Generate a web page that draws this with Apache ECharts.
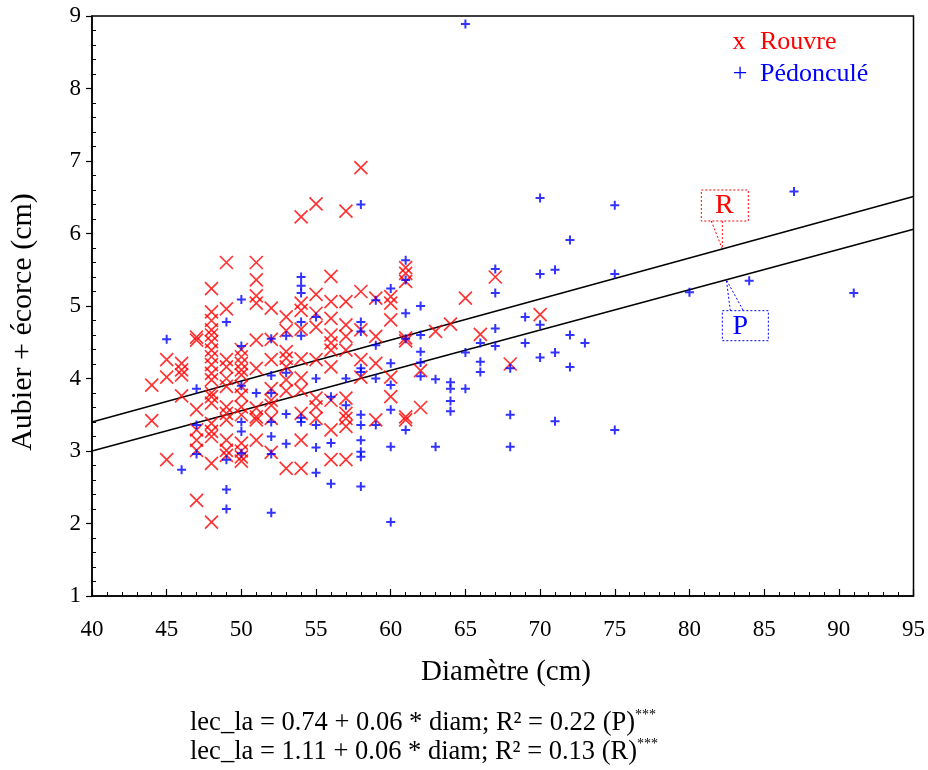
<!DOCTYPE html>
<html>
<head>
<meta charset="utf-8">
<script src="https://cdn.jsdelivr.net/npm/echarts@6/dist/echarts.min.js"></script>
<style>html,body{margin:0;padding:0;background:#fff}#c{width:928px;height:770px}</style>
</head>
<body>
<div id="c"></div>
<script>
// Rouvre (red x)
const rouvre = [
[44,3.91],[44,3.42],
[45,4.26],[45,4.02],[45,2.88],
[46,4.21],[46,4.12],[46,4.05],[46,3.76],
[47,4.57],[47,4.53],[47,3.57],[47,3.29],[47,3.15],[47,3.01],[47,2.32],
[48,5.24],[48,4.92],[48,4.80],[48,4.67],[48,4.60],[48,4.51],[48,4.39],[48,4.30],[48,4.19],[48,4.07],[48,3.98],[48,3.80],[48,3.75],[48,3.66],[48,3.38],[48,3.27],[48,3.20],[48,2.83],[48,2.02],
[49,5.60],[49,4.96],[49,4.26],[49,4.16],[49,4.00],[49,3.89],[49,3.61],[49,3.52],[49,3.43],[49,3.15],[49,3.01],[49,2.94],
[50,4.40],[50,4.30],[50,4.21],[50,4.12],[50,4.05],[50,3.89],[50,3.77],[50,3.61],[50,3.50],[50,3.11],[50,3.00],[50,2.92],[50,2.86],
[51,5.60],[51,5.36],[51,5.14],[51,5.04],[51,4.53],[51,4.14],[51,3.59],[51,3.47],[51,3.43],[51,3.15],
[52,4.97],[52,4.54],[52,4.26],[52,3.86],[52,3.70],[52,3.63],[52,3.45],[52,2.98],
[53,4.85],[53,4.66],[53,4.37],[53,4.28],[53,4.16],[53,3.98],[53,3.83],[53,2.76],
[54,6.23],[54,5.04],[54,4.94],[54,4.68],[54,4.27],[54,4.01],[54,3.84],[54,3.52],[54,3.15],[54,2.76],
[55,6.41],[55,5.16],[55,4.90],[55,4.71],[55,4.26],[55,3.73],[55,3.61],[55,3.45],
[56,5.41],[56,5.06],[56,4.83],[56,4.60],[56,4.49],[56,4.39],[56,4.16],[56,3.70],[56,3.29],[56,2.88],
[57,6.31],[57,5.06],[57,4.74],[57,4.58],[57,4.39],[57,3.73],[57,3.52],[57,3.45],[57,3.34],[57,2.88],
[58,6.91],[58,5.20],[58,4.67],[58,4.26],[58,4.02],
[59,5.11],[59,4.58],[59,4.21],[59,3.43],
[60,5.13],[60,5.04],[60,4.81],[60,4.02],[60,3.75],
[61,5.53],[61,5.45],[61,5.34],[61,4.56],[61,4.52],[61,3.47],[61,3.43],
[62,4.11],[62,3.60],
[63,4.65],[64,4.75],[65,5.11],[66,4.61],[67,5.40],[68,4.20],[70,4.88]
];
// Pédonculé (blue +)
const pedoncule = [
[45,4.54],[46,2.74],
[47,3.86],[47,3.36],[47,2.96],
[49,4.78],[49,2.88],[49,2.47],[49,2.20],
[50,5.09],[50,4.45],[50,3.90],[50,3.40],[50,3.27],[50,2.97],
[51,3.80],
[52,4.55],[52,4.04],[52,3.80],[52,3.40],[52,3.20],[52,2.96],[52,2.15],
[53,4.59],[53,4.08],[53,3.51],[53,3.10],
[54,5.40],[54,5.28],[54,5.18],[54,4.78],[54,4.59],[54,3.46],[54,3.40],
[55,4.85],[55,4.00],[55,3.36],[55,3.05],[55,2.70],
[56,3.75],[56,3.11],[56,2.55],
[57,4.00],[57,3.63],
[58,6.40],[58,4.78],[58,4.65],[58,4.14],[58,4.09],[58,3.50],[58,3.36],[58,3.15],[58,2.99],[58,2.92],[58,2.51],
[59,5.08],[59,4.46],[59,4.00],[59,3.36],
[60,5.24],[60,4.21],[60,3.91],[60,3.57],[60,3.06],[60,2.02],
[61,5.63],[61,5.36],[61,4.90],[61,4.55],[61,3.29],
[62,5.00],[62,4.60],[62,4.37],[62,4.22],[62,4.03],
[63,3.99],[63,3.06],
[64,3.95],[64,3.86],[64,3.69],[64,3.55],
[65,8.89],[65,4.36],[65,3.86],
[66,4.49],[66,4.23],[66,4.09],
[67,5.51],[67,5.18],[67,4.69],[67,4.45],
[68,4.14],[68,3.50],[68,3.06],
[69,4.85],[69,4.49],
[70,6.49],[70,5.44],[70,4.74],[70,4.29],
[71,5.50],[71,4.36],[71,3.41],
[72,5.91],[72,4.60],[72,4.16],
[73,4.49],
[75,6.39],[75,5.44],[75,3.29],
[80,5.19],[84,5.35],[87,6.58],[91,5.18]
];
// regression lines (endpoints)
const lineR = [[40,3.40],[95,6.51]];
const lineP = [[40,3.00],[95,6.06]];
const anchorRx = 82.2;
const anchorPx = 82.47;

const xTickLabels = ['40','45','50','55','60','65','70','75','80','85','90','95'];
const yTickLabels = ['1','2','3','4','5','6','7','8','9'];
const xTitle = 'Diamètre (cm)';
const yTitle = 'Aubier + écorce (cm)';
const eqP = 'lec_la = 0.74 + 0.06 * diam; R² = 0.22 (P)';
const eqR = 'lec_la = 1.11 + 0.06 * diam; R² = 0.13 (R)';
const legendNames = ['Rouvre','Pédonculé'];

const FONT = '"Liberation Serif","Times New Roman",serif';
const RED = '#ff0000', BLUE = '#0000ff';

function lineAt(l, x){ return l[0][1] + (x - l[0][0]) * (l[1][1]-l[0][1]) / (l[1][0]-l[0][0]); }

const chart = echarts.init(document.getElementById('c'), null, {renderer:'canvas'});
const option = {
  animation:false,
  backgroundColor:'#fff',
  grid:{left:92, right:13, top:16, bottom:174, show:true, borderColor:'#000', borderWidth:1.5, backgroundColor:'transparent'},
  xAxis:{
    type:'value', min:40, max:95, interval:5,
    axisLine:{lineStyle:{color:'#000', width:1.5}},
    axisTick:{inside:true, length:7, lineStyle:{color:'#000', width:1.2}},
    minorTick:{show:true, splitNumber:5, length:4, lineStyle:{color:'#000', width:1}},
    splitLine:{show:false},
    axisLabel:{margin:22, color:'#000', fontFamily:FONT, fontSize:23,
      formatter:(v)=>xTickLabels[Math.round((v-40)/5)]}
  },
  yAxis:[{
    type:'value', min:1, max:9, interval:1,
    axisLine:{lineStyle:{color:'#000', width:1.5}},
    axisTick:{inside:false, length:6, lineStyle:{color:'#000', width:1.2}},
    minorTick:{show:false},
    splitLine:{show:false},
    axisLabel:{margin:11, color:'#000', fontFamily:FONT, fontSize:23,
      formatter:(v)=>yTickLabels[Math.round(v-1)]}
  },{
    type:'value', min:1, max:9, interval:1, position:'left',
    axisLine:{show:false},
    axisTick:{show:false, inside:true},
    minorTick:{show:true, splitNumber:5, length:4, lineStyle:{color:'#000', width:1}},
    splitLine:{show:false},
    axisLabel:{show:false}
  }],
  series:[
    {type:'line', data:lineR, symbol:'none', lineStyle:{color:'#000', width:1.6}, silent:true, z:1},
    {type:'line', data:lineP, symbol:'none', lineStyle:{color:'#000', width:1.6}, silent:true, z:1},
    {type:'scatter', name:legendNames[0], data:rouvre,
      symbol:'path://M0,0L10,10M10,0L0,10', symbolSize:13,
      itemStyle:{color:'transparent', borderColor:RED, borderWidth:1.7}, z:3, silent:true},
    {type:'scatter', name:legendNames[1], data:pedoncule,
      symbol:'path://M5,0L5,10M0,5L10,5', symbolSize:9,
      itemStyle:{color:'transparent', borderColor:BLUE, borderWidth:2}, z:4, silent:true}
  ]
};
chart.setOption(option);

const pR = chart.convertToPixel({gridIndex:0}, [anchorRx, lineAt(lineR, anchorRx)]);
const pP = chart.convertToPixel({gridIndex:0}, [anchorPx, lineAt(lineP, anchorPx)]);
const dotted = (c)=>({stroke:c, lineWidth:1, lineDash:[2,2], fill:null});

chart.setOption({graphic:[
  // axis titles
  {type:'text', x:23, y:322, rotation:Math.PI/2, style:{text:yTitle, x:0, y:0, fontFamily:FONT, fontSize:30, fill:'#000', textAlign:'center', textVerticalAlign:'middle'}},
  {type:'text', style:{text:xTitle, x:506, y:672, fontFamily:FONT, fontSize:29, fill:'#000', textAlign:'center', textVerticalAlign:'middle'}},
  // legend
  {type:'text', style:{text:'x', x:739, y:42, fontFamily:FONT, fontSize:26, fill:RED, textAlign:'center', textVerticalAlign:'middle'}},
  {type:'text', style:{text:legendNames[0], x:760, y:42, fontFamily:FONT, fontSize:26, fill:RED, textAlign:'left', textVerticalAlign:'middle'}},
  {type:'text', style:{text:'+', x:740, y:74, fontFamily:FONT, fontSize:26, fill:BLUE, textAlign:'center', textVerticalAlign:'middle'}},
  {type:'text', style:{text:legendNames[1], x:760, y:74, fontFamily:FONT, fontSize:26, fill:BLUE, textAlign:'left', textVerticalAlign:'middle'}},
  // R callout
  {type:'rect', shape:{x:pR[0]-21, y:pR[1]-59, width:47, height:31}, style:dotted(RED)},
  {type:'polyline', shape:{points:[[pR[0]-11,pR[1]-28],[pR[0],pR[1]],[pR[0],pR[1]-28]]}, style:dotted(RED)},
  {type:'text', style:{text:'R', x:pR[0]+2, y:pR[1]-43, fontFamily:FONT, fontSize:28, fill:RED, textAlign:'center', textVerticalAlign:'middle'}},
  // P callout
  {type:'rect', shape:{x:pP[0]-4, y:pP[1]+31, width:46, height:30}, style:dotted(BLUE)},
  {type:'polyline', shape:{points:[[pP[0]+4,pP[1]+31],[pP[0],pP[1]],[pP[0]+17,pP[1]+31]]}, style:dotted(BLUE)},
  {type:'text', style:{text:'P', x:pP[0]+14, y:pP[1]+47, fontFamily:FONT, fontSize:28, fill:BLUE, textAlign:'center', textVerticalAlign:'middle'}},
  // equations
  {type:'text', style:{text:'{a|'+eqP+'}{s|***}', x:190, y:723, textAlign:'left', textVerticalAlign:'middle',
     rich:{a:{fontFamily:FONT, fontSize:26.5, fill:'#000'}, s:{fontFamily:FONT, fontSize:14, fill:'#000', verticalAlign:'top', padding:[0,0,16,0]}}}},
  {type:'text', style:{text:'{a|'+eqR+'}{s|***}', x:190, y:752, textAlign:'left', textVerticalAlign:'middle',
     rich:{a:{fontFamily:FONT, fontSize:26.5, fill:'#000'}, s:{fontFamily:FONT, fontSize:14, fill:'#000', verticalAlign:'top', padding:[0,0,16,0]}}}}
]});
</script>
</body>
</html>
